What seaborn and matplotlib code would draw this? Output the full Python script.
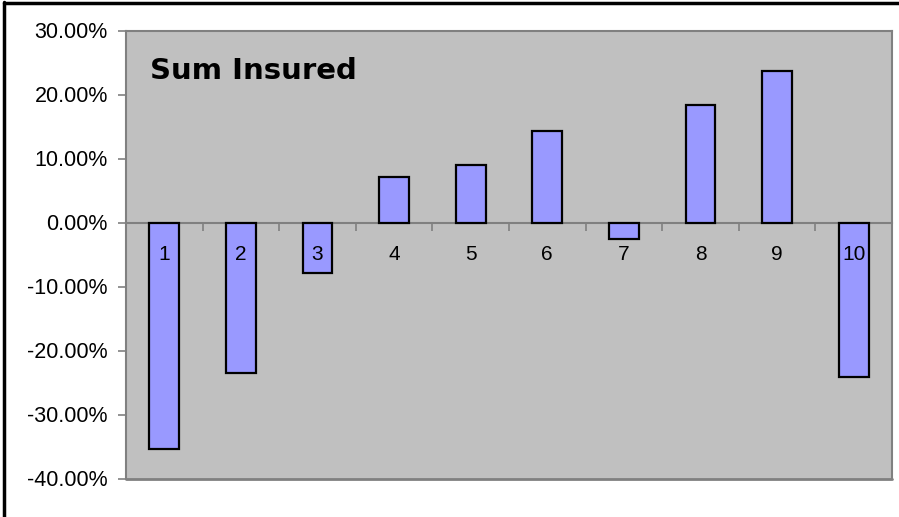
import matplotlib
matplotlib.use('Agg')
import pandas as pd
import seaborn as sns
import matplotlib.pyplot as plt
from matplotlib.lines import Line2D
from matplotlib.ticker import FuncFormatter, FixedLocator

# dados (variacao em %)
categorias = ['1', '2', '3', '4', '5', '6', '7', '8', '9', '10']
valores = [-35.4, -23.5, -7.9, 7.1, 9.0, 14.3, -2.6, 18.4, 23.7, -24.2]
titulo = 'Sum Insured'

df = pd.DataFrame({'grupo': categorias, 'valor': valores})

sns.set_style('white')
plt.rcParams['font.family'] = ['Liberation Sans', 'DejaVu Sans']

fig = plt.figure(figsize=(8.99, 5.17), dpi=100)
ax = fig.add_axes([126 / 899, 1 - 478.5 / 517, 766 / 899, 448 / 517])

sns.barplot(data=df, x='grupo', y='valor', color='#9999FF', saturation=1,
            edgecolor='black', linewidth=1.6, width=0.39, ax=ax, zorder=2)

ax.set_axisbelow(False)
ax.set_facecolor('#C0C0C0')
ax.set_ylim(-40, 30)
ax.set_xlim(-0.5, len(categorias) - 0.5)
ax.set_xlabel('')
ax.set_ylabel('')

# eixo y
ax.yaxis.set_major_locator(FixedLocator([-40, -30, -20, -10, 0, 10, 20, 30]))
ax.yaxis.set_major_formatter(FuncFormatter(lambda v, p: f'{v:.2f}%'))
ax.tick_params(axis='y', left=True, length=6, width=1.2, color='#808080',
               pad=7, labelsize=15.5, labelcolor='black')

# eixo x passa pelo zero, rotulos logo abaixo
ax.spines['bottom'].set_position(('data', 0))
ax.xaxis.set_minor_locator(FixedLocator([i + 0.5 for i in range(len(categorias))]))
ax.tick_params(axis='x', which='major', length=0, pad=16.5, labelsize=15,
               labelcolor='black')
ax.tick_params(axis='x', which='minor', bottom=True, length=6, width=1.2,
               color='#808080', direction='out')

for lado in ['left', 'bottom', 'top', 'right']:
    ax.spines[lado].set_color('#808080')
    ax.spines[lado].set_linewidth(1.5)
ax.spines['bottom'].set_zorder(1.5)

# moldura inferior da area do grafico
ax.axhline(-40, color='#808080', lw=2, clip_on=False)

ax.text(0.031, 0.91, titulo, transform=ax.transAxes, fontsize=21,
        fontweight='bold', family='DejaVu Sans', color='black',
        ha='left', va='center')

# borda da figura (so topo e esquerda aparecem)
fig.add_artist(Line2D([4 / 899, 4 / 899], [0, 1 - 2 / 517], color='black', lw=2.5))
fig.add_artist(Line2D([4 / 899, 1], [1 - 3 / 517, 1 - 3 / 517], color='black', lw=2.5))

plt.savefig('out.png', dpi=100)
